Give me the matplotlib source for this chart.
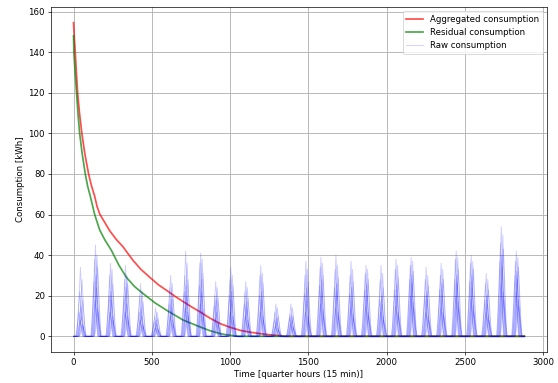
import matplotlib
matplotlib.use("Agg")
import matplotlib.pyplot as plt
import numpy as np

# aggregated / residual consumption (x in quarter hours, y in kWh)
agg_t = [0, 5, 11, 18, 26, 38, 53, 72, 96, 115, 135, 150, 167, 200, 231, 270, 317, 350, 381,
         430, 488, 540, 595, 650, 702, 760, 809, 870, 938, 1002, 1066, 1130, 1195, 1260, 1323, 1345, 2880]
agg_kwh = [154.5, 147, 140, 130, 120, 110, 100, 90, 80, 74, 69, 64, 60.3, 56, 52, 48, 44, 40.5, 37.3,
           33, 29, 25.5, 22.6, 19.6, 17, 14.2, 12, 9, 6.2, 4.4, 2.9, 2, 1.3, 0.7, 0.3, 0, 0]

res_t = [0, 2, 10, 19, 28, 39, 55, 75, 90, 107, 135, 167, 200, 242, 290, 338, 390, 445, 520,
         595, 700, 809, 870, 938, 980, 1023, 1050, 2880]
res_kwh = [148, 140, 130, 120, 110, 100, 90, 80, 74, 69, 60, 52.4, 47.5, 42.3, 35, 29, 24.5, 21, 16.5,
           12.8, 8, 4.6, 2.8, 1.3, 0.7, 0.3, 0, 0]

# daily peak of each household's raw consumption (30 days)
raw_peaks = [
    [34, 45, 36, 35, 26, 14, 30, 42, 41, 27, 34, 27, 35, 16, 16, 37, 39, 40, 37, 35, 35, 38, 39, 34, 36, 42, 40, 31, 54, 42],
    [28, 40, 33, 30, 22, 12, 26, 36, 38, 24, 30, 24, 31, 14, 14, 33, 36, 35, 33, 33, 31, 35, 37, 30, 33, 39, 37, 28, 50, 39],
    [22, 38, 30, 28, 20, 10, 24, 30, 36, 20, 28, 22, 30, 12, 11, 30, 34, 33, 30, 31, 28, 33, 35, 28, 30, 38, 36, 26, 46, 37],
    [18, 34, 26, 26, 17, 9, 20, 28, 31, 19, 25, 19, 26, 10, 10, 27, 30, 29, 27, 28, 24, 29, 32, 25, 28, 33, 33, 23, 43, 34],
    [15, 30, 22, 24, 14, 8, 18, 25, 28, 18, 22, 17, 22, 9, 10, 24, 28, 26, 24, 26, 20, 26, 30, 22, 26, 30, 30, 20, 40, 32],
    [12, 27, 20, 19, 12, 7, 16, 22, 25, 15, 20, 16, 20, 8, 9, 21, 25, 24, 21, 23, 18, 23, 28, 20, 23, 28, 27, 18, 37, 30],
    [10, 24, 18, 16, 10, 6, 14, 20, 22, 12, 18, 14, 18, 7, 8, 18, 22, 22, 18, 20, 16, 20, 26, 18, 20, 26, 24, 16, 34, 28],
    [8, 18, 12, 12, 8, 4, 10, 14, 16, 9, 12, 10, 12, 5, 6, 12, 16, 14, 14, 15, 12, 15, 20, 12, 14, 20, 18, 12, 26, 22],
    [6, 14, 10, 10, 6, 4, 8, 12, 13, 7, 10, 8, 10, 4, 5, 10, 13, 12, 11, 12, 10, 12, 17, 10, 12, 17, 15, 10, 22, 18],
    [5, 12, 8, 8, 5, 3, 6, 10, 10, 6, 8, 6, 8, 3, 4, 8, 10, 10, 9, 10, 8, 10, 14, 8, 10, 14, 12, 8, 18, 15],
]
raw_shift = [-4, 6, -9, 10, 0, -12, 3, -6, 8, 12]

# daily profile around midday (quarter hours from noon, fraction of peak)
spike_dt = [-22, -15, -9, -4, 0, 4, 9, 15, 22]
spike_frac = [0, 0.25, 0.55, 0.8, 1.0, 0.8, 0.55, 0.25, 0]

fig = plt.figure(figsize=(9, 383 / 62), dpi=62)
ax = fig.add_axes([51 / 558, 1 - 352 / 383, 496 / 558, 345 / 383])

ax.plot(agg_t, agg_kwh, color="r", alpha=0.7, lw=2, label="Aggregated consumption")
ax.plot(res_t, res_kwh, color="g", alpha=0.7, lw=2, label="Residual consumption")

for h, peaks in enumerate(raw_peaks):
    t = [0]
    y = [0]
    for d, p in enumerate(peaks):
        c = d * 96 + 48 + raw_shift[h]
        t += [c + dt for dt in spike_dt]
        y += [p * f for f in spike_frac]
    t.append(2880)
    y.append(0)
    ax.plot(t, y, color="b", alpha=0.2, lw=1.0,
            label="Raw consumption" if h == 0 else None)

ax.legend(loc="upper right")
ax.grid(True, lw=1.0)
ax.set_xlabel("Time [quarter hours (15 min)]")
ax.set_ylabel("Consumption [kWh]")

fig.savefig("out.png", dpi=62)
